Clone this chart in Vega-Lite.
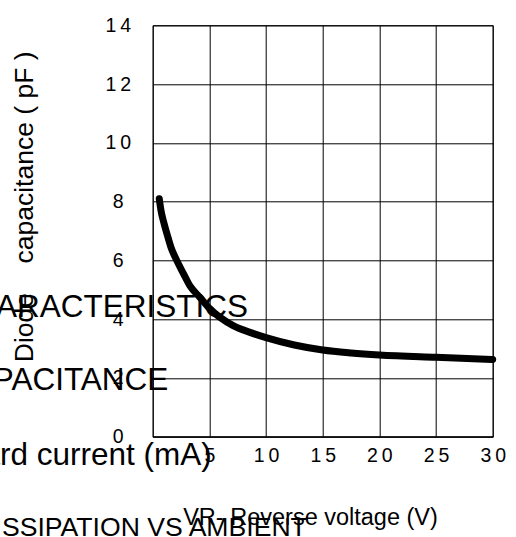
{
  "$schema": "https://vega.github.io/schema/vega-lite/v6.json",
  "width": 340,
  "height": 411.4,
  "autosize": {"type": "none"},
  "padding": {"left": 152.7, "top": 25.3, "right": 23.3, "bottom": 100.3},
  "background": "white",
  "config": {
    "font": "Liberation Sans",
    "view": {"stroke": "black", "strokeWidth": 1}
  },
  "datasets": {
    "curve": [
      {"V": 0.58, "C": 8.1},
      {"V": 0.73, "C": 7.7},
      {"V": 1.0, "C": 7.26},
      {"V": 1.29, "C": 6.86},
      {"V": 1.59, "C": 6.47},
      {"V": 2.12, "C": 6.0},
      {"V": 2.7, "C": 5.56},
      {"V": 3.29, "C": 5.13},
      {"V": 4.17, "C": 4.74},
      {"V": 5.0, "C": 4.37},
      {"V": 7.1, "C": 3.78},
      {"V": 8.58, "C": 3.55},
      {"V": 10.0, "C": 3.37},
      {"V": 12.5, "C": 3.12},
      {"V": 15.0, "C": 2.95},
      {"V": 17.5, "C": 2.85},
      {"V": 20.0, "C": 2.78},
      {"V": 25.0, "C": 2.7},
      {"V": 30.0, "C": 2.63}
    ],
    "notesLarge": [
      {"V": 8.41, "C": 4.07, "label": "CHARACTERISTICS"},
      {"V": 1.38, "C": 1.59, "label": "CAPACITANCE"},
      {"V": 5.21, "C": -0.96, "label": "Forward current (mA)"}
    ],
    "notesSmall": [
      {"V": 13.6, "C": -3.38, "label": "DISSIPATION VS AMBIENT"}
    ]
  },
  "encoding": {
    "x": {
      "field": "V",
      "type": "quantitative",
      "scale": {"domain": [0, 30], "nice": false, "zero": false},
      "axis": {
        "values": [5, 10, 15, 20, 25, 30],
        "title": "VR- Reverse voltage (V)",
        "titleFontSize": 23.5,
        "titleFontWeight": "normal",
        "titleColor": "black",
        "titleX": 30,
        "titleY": 88,
        "titleAlign": "left",
        "titleBaseline": "alphabetic",
        "labelFontSize": 19.5,
        "labelColor": "black",
        "labelAlign": "center",
        "labelBaseline": "middle",
        "labelPadding": 19,
        "labelFlush": false,
        "labelOverlap": false,
        "labelExpr": "join(split(datum.label, ''), '\u2009')",
        "ticks": false,
        "tickSize": 0,
        "domainColor": "black",
        "gridColor": "black",
        "gridOpacity": 1,
        "gridWidth": 1
      }
    },
    "y": {
      "field": "C",
      "type": "quantitative",
      "scale": {"domain": [0, 14], "nice": false, "zero": false},
      "axis": {
        "values": [0, 2, 4, 6, 8, 10, 12, 14],
        "title": "Diode\u00a0\u00a0\u00a0 capacitance ( pF )",
        "titleFontSize": 26.5,
        "titleFontWeight": "normal",
        "titleColor": "black",
        "titleX": -120,
        "titleY": 181,
        "titleAngle": 270,
        "titleAlign": "center",
        "titleBaseline": "alphabetic",
        "labelFontSize": 19.5,
        "labelColor": "black",
        "labelAlign": "center",
        "labelBaseline": "middle",
        "labelPadding": 35,
        "labelFlush": false,
        "labelOverlap": false,
        "labelExpr": "join(split(datum.label, ''), '\u2009')",
        "ticks": false,
        "tickSize": 0,
        "domainColor": "black",
        "gridColor": "black",
        "gridOpacity": 1,
        "gridWidth": 1
      }
    }
  },
  "layer": [
    {
      "data": {"name": "curve"},
      "mark": {"type": "line", "color": "black", "strokeWidth": 7, "strokeCap": "round", "interpolate": "monotone", "clip": false}
    },
    {
      "data": {"name": "notesLarge"},
      "mark": {"type": "text", "fontSize": 31.5, "align": "right", "baseline": "alphabetic", "color": "black", "font": "Liberation Sans"},
      "encoding": {"text": {"field": "label"}}
    },
    {
      "data": {"name": "notesSmall"},
      "mark": {"type": "text", "fontSize": 26.6, "align": "right", "baseline": "alphabetic", "color": "black", "font": "Liberation Sans"},
      "encoding": {"text": {"field": "label"}}
    }
  ]
}
